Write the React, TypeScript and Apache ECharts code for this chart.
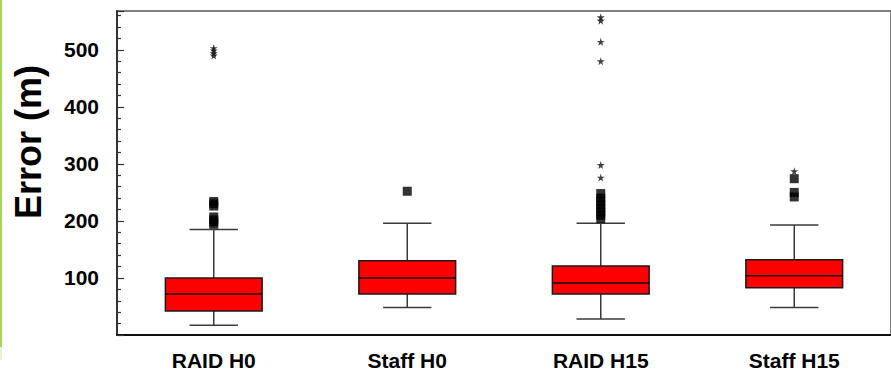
import React, { useEffect, useRef } from "react";
import * as echarts from "echarts";

const categories = ["RAID H0", "Staff H0", "RAID H15", "Staff H15"];
const lows = [17, 48, 28, 48];
const q1s = [42, 72, 72, 83];
const medians = [72, 100, 91, 104];
const q3s = [100, 130, 121, 132];
const highs = [185, 196, 196, 193];

const squareOutliers: number[][] = [
  [194, 198, 202, 207, 226, 230, 234],
  [252],
  [204, 210, 216, 222, 228, 234, 240, 248],
  [242, 250, 274],
];
const starOutliers: number[][] = [
  [490, 494, 499, 503],
  [],
  [276, 298, 480, 514, 551, 557],
  [287],
];

const yMin = 0;
const yMax = 568;

const STAR =
  "path://M50,0 L61,35 L98,35 L68,57 L79,91 L50,70 L21,91 L32,57 L2,35 L39,35 Z";

export default function App() {
  const ref = useRef<HTMLDivElement>(null);
  useEffect(() => {
    if (!ref.current) return;
    const chart = echarts.init(ref.current, null, { renderer: "svg" });
    const boxData = categories.map((_, i) => [i, lows[i], q1s[i], medians[i], q3s[i], highs[i]]);
    const sq: number[][] = [];
    squareOutliers.forEach((arr, i) => arr.forEach((v) => sq.push([i, v])));
    const st: number[][] = [];
    starOutliers.forEach((arr, i) => arr.forEach((v) => st.push([i, v])));

    chart.setOption({
      animation: false,
      backgroundColor: "#ffffff",
      grid: {
        left: 117,
        top: 11,
        width: 784,
        height: 325,
        show: true,
        borderColor: "#808080",
        borderWidth: 2,
        backgroundColor: "transparent",
      },
      graphic: [
        { type: "rect", shape: { x: 0, y: 0, width: 2, height: 347 }, style: { fill: "#a3d45c" } },
        { type: "rect", shape: { x: 0, y: 347, width: 2, height: 13 }, style: { fill: "#e6f2da" } },
        {
          type: "text",
          x: 28,
          y: 142,
          rotation: Math.PI / 2,
          style: {
            text: "Error (m)",
            fontSize: 36,
            fontWeight: "bold",
            fontFamily: "Liberation Sans, Arial, sans-serif",
            fill: "#000",
            align: "center",
            verticalAlign: "middle",
          },
        },
      ],
      xAxis: {
        type: "category",
        data: categories,
        boundaryGap: true,
        axisLine: { lineStyle: { color: "#111", width: 2 } },
        axisTick: { inside: true, alignWithLabel: true, length: 5, lineStyle: { color: "#333", width: 1.5 } },
        axisLabel: {
          margin: 15,
          fontSize: 21,
          fontWeight: "bold",
          fontFamily: "Liberation Sans, Arial, sans-serif",
          color: "#000",
        },
        splitLine: { show: false },
      },
      yAxis: {
        type: "value",
        min: yMin,
        max: yMax,
        axisLine: { show: true, lineStyle: { color: "#333", width: 2 } },
        axisTick: { show: true, inside: true, length: 7, lineStyle: { color: "#333", width: 1.2 } },
        minorTick: { show: true, splitNumber: 5, length: 4, lineStyle: { color: "#333", width: 1.2 } },
        axisLabel: {
          margin: 18,
          fontSize: 21,
          fontWeight: "bold",
          fontFamily: "Liberation Sans, Arial, sans-serif",
          color: "#000",
          showMinLabel: false,
          showMaxLabel: false,
          formatter: (v: number) => (v === 0 || v % 100 !== 0 ? "" : String(v)),
        },
        splitLine: { show: false },
        minorSplitLine: { show: false },
      },
      series: [
        {
          type: "custom",
          data: boxData,
          encode: { x: 0, y: [1, 2, 3, 4, 5] },
          renderItem: (params: any, api: any) => {
            const x = api.value(0);
            const low = api.coord([x, api.value(1)]);
            const q1 = api.coord([x, api.value(2)]);
            const med = api.coord([x, api.value(3)]);
            const q3 = api.coord([x, api.value(4)]);
            const high = api.coord([x, api.value(5)]);
            const bw = api.size([1, 0])[0];
            const hb = bw * 0.25;
            const hc = bw * 0.125;
            const cx = low[0];
            const wStyle = { stroke: "#3a3a3a", lineWidth: 1.5 };
            return {
              type: "group",
              children: [
                { type: "line", shape: { x1: cx, y1: high[1], x2: cx, y2: q3[1] }, style: wStyle },
                { type: "line", shape: { x1: cx, y1: q1[1], x2: cx, y2: low[1] }, style: wStyle },
                { type: "line", shape: { x1: cx - hc, y1: high[1], x2: cx + hc, y2: high[1] }, style: wStyle },
                { type: "line", shape: { x1: cx - hc, y1: low[1], x2: cx + hc, y2: low[1] }, style: wStyle },
                {
                  type: "rect",
                  shape: { x: cx - hb, y: q3[1], width: hb * 2, height: q1[1] - q3[1] },
                  style: { fill: "#ff0000", stroke: "#1a1a1a", lineWidth: 1.5 },
                },
                {
                  type: "line",
                  shape: { x1: cx - hb, y1: med[1], x2: cx + hb, y2: med[1] },
                  style: { stroke: "#1a0000", lineWidth: 1.5 },
                },
              ],
            };
          },
          z: 2,
        },
        {
          type: "scatter",
          data: sq,
          symbol: "rect",
          symbolSize: [9, 9],
          itemStyle: { color: "#000" },
          z: 3,
        },
        {
          type: "scatter",
          data: st,
          symbol: STAR,
          symbolSize: [8, 8],
          itemStyle: { color: "#111" },
          z: 3,
        },
      ],
    });
    return () => chart.dispose();
  }, []);
  return (
    <div
      ref={ref}
      style={{ position: "fixed", left: 0, top: 0, width: 891, height: 371, background: "#fff" }}
    />
  );
}
